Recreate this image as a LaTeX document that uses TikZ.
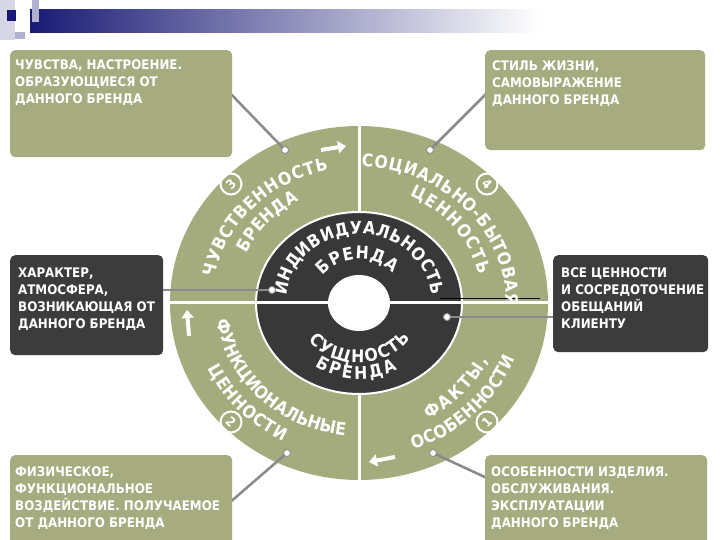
\documentclass[tikz,border=0pt]{standalone}
\usepackage{fontspec}
\setmainfont{DejaVu Sans Condensed}
\usetikzlibrary{decorations.text,arrows.meta,calc}
\definecolor{ringgreen}{RGB}{164,171,124}
\definecolor{boxgreen}{RGB}{166,172,127}
\definecolor{darkcore}{RGB}{56,56,56}
\definecolor{boxdark}{RGB}{60,60,60}
\definecolor{hdrnavy}{RGB}{26,26,118}
\definecolor{hdrpale}{RGB}{214,214,228}
\definecolor{hdrlav}{RGB}{176,176,208}
\definecolor{conngrey}{RGB}{138,138,138}
\newcommand\boxfont{\fontsize{13.2}{16.8}\selectfont\bfseries}
\newcommand\ringfont{\fontsize{17.5}{17.5}\selectfont\bfseries\color{white}}
\newcommand\corefont{\fontsize{17.5}{17.5}\selectfont\bfseries\color{white}}
\tikzset{
  greenbox/.style={rectangle, fill=boxgreen, rounded corners=5pt, inner sep=0pt, anchor=north west},
  darkbox/.style={rectangle, fill=boxdark, rounded corners=5pt, inner sep=0pt, anchor=north west},
  boxtext/.style={text=white, font=\boxfont, align=left, inner sep=0pt, anchor=north west},
  ringtxt/.style={decorate, decoration={text along path, text align={fit to path}, text={|\ringfont|#1}}},
  coretxt/.style={decorate, decoration={text along path, text align={fit to path}, text={|\corefont|#1}}},
  conn/.style={draw=conngrey, line width=2.5pt},
  pindot/.style={circle, fill=white, draw=conngrey, line width=0.8pt, inner sep=0pt, minimum size=7pt},
  badge/.style={circle, draw=white, line width=2pt, text=white, font=\fontsize{13}{13}\selectfont\bfseries, inner sep=0pt, minimum size=21pt},
  flowarrow/.style={draw=white, line width=4pt, -{Triangle[length=8pt,width=12pt]}},
  divider/.style={draw=white, line width=3pt},
}
\begin{document}
\begin{tikzpicture}[x=1pt,y=1pt]
\useasboundingbox (0,0) rectangle (720,540);
\fill[white] (0,0) rectangle (720,540);
% header decoration
\fill[hdrpale] (0,500) rectangle (15,540);
\shade[left color=hdrnavy, right color=white] (30,507) rectangle (540,530);
\fill[hdrnavy] (7,519) rectangle (16,530);
\fill[hdrlav] (32,518) rectangle (39,540);
\fill[hdrlav] (15,501) rectangle (25,508);

\coordinate (C) at (359,237);
% ring
\fill[ringgreen] (C) ellipse [x radius=189, y radius=177];
\draw[divider] ($(C)+(-189,0)$) -- ($(C)+(189,0)$);
\draw[divider] ($(C)+(0,-177)$) -- ($(C)+(0,177)$);
\filldraw[fill=darkcore, draw=white, line width=2pt] (C) ellipse [x radius=103, y radius=91];
\draw[divider] ($(C)+(-103,0)$) -- ($(C)+(103,0)$);
\fill[white] (C) ellipse [x radius=31, y radius=28];
\draw[black, line width=0.8pt] (440,242) -- (540,242);

% flow arrows
\draw[flowarrow] (321,390) -- (346,394);
\draw[flowarrow] (189,204) -- (187,230);
\draw[flowarrow] (395,83) -- (369,78);

% badges
\node[badge, rotate=45] (n3) at ($(C)+(-128,119)$) {3};
\node[badge, rotate=-45] (n4) at ($(C)+(128,119)$) {4};
\node[badge, rotate=-45] (n2) at ($(C)+(-128,-119)$) {2};
\node[badge, rotate=45] (n1) at ($(C)+(128,-119)$) {1};

% ring texts
\path[ringtxt={ЧУВСТВЕННОСТЬ}] ($(C)+(169:147 and 136)$) arc [start angle=169, end angle=102, x radius=147, y radius=136];
\path[ringtxt={БРЕНДА}] ($(C)+(155:124 and 117)$) arc [start angle=155, end angle=119, x radius=124, y radius=117];
\path[ringtxt={СОЦИАЛЬНО-БЫТОВАЯ}] ($(C)+(89:147 and 136)$) arc [start angle=89, end angle=-1, x radius=147, y radius=136];
\path[ringtxt={ЦЕННОСТЬ}] ($(C)+(66:124 and 117)$) arc [start angle=66, end angle=14, x radius=124, y radius=117];
\path[ringtxt={ФУНКЦИОНАЛЬНЫЕ}] ($(C)+(187.5:143 and 133)$) arc [start angle=187.5, end angle=264.5, x radius=143, y radius=133];
\path[ringtxt={ЦЕННОСТИ}] ($(C)+(205:167 and 155)$) arc [start angle=205, end angle=243, x radius=167, y radius=155];
\path[ringtxt={ФАКТЫ,}] ($(C)+(299:143 and 133)$) arc [start angle=299, end angle=334.5, x radius=143, y radius=133];
\path[ringtxt={ОСОБЕННОСТИ}] ($(C)+(289:167 and 155)$) arc [start angle=289, end angle=339, x radius=167, y radius=155];
% core texts
\path[coretxt={ИНДИВИДУАЛЬНОСТЬ}] ($(C)+(174:73 and 69)$) arc [start angle=174, end angle=6, x radius=73, y radius=69];
\path[coretxt={БРЕНДА}] ($(C)+(141:46 and 44)$) arc [start angle=141, end angle=43, x radius=46, y radius=44];
\path[coretxt={СУЩНОСТЬ}] ($(C)+(218:64 and 60)$) arc [start angle=218, end angle=324, x radius=64, y radius=60];
\path[coretxt={БРЕНДА}] ($(C)+(236:79 and 76)$) arc [start angle=236, end angle=299, x radius=79, y radius=76];

% pin dots and connectors
\node[pindot] (d1) at (285,390) {};
\node[pindot] (d2) at (430,390) {};
\node[pindot] (d3) at (272,250) {};
\node[pindot] (d4) at (447,223) {};
\node[pindot] (d5) at (287,87) {};
\node[pindot] (d6) at (433,87) {};
\coordinate (e1) at (228,449);
\coordinate (e2) at (489,449);
\coordinate (e3) at (158,250);
\coordinate (e4) at (558,223);
\coordinate (e5) at (228,36);
\coordinate (e6) at (489,61);
\draw[conn] (e1) -- (d1);
\draw[conn] (e2) -- (d2);
\draw[conn] (e3) -- (d3);
\draw[conn] (e4) -- (d4);
\draw[conn] (e5) -- (d5);
\draw[conn] (e6) -- (d6);
\node[pindot] at (d1) {};
\node[pindot] at (d2) {};
\node[pindot] at (d3) {};
\node[pindot] at (d4) {};
\node[pindot] at (d5) {};
\node[pindot] at (d6) {};

% boxes
\node[greenbox, minimum width=222pt, minimum height=107pt] (b1) at (10,490) {};
\node[greenbox, minimum width=220pt, minimum height=100pt] (b2) at (485,490) {};
\node[darkbox, minimum width=153pt, minimum height=100pt] (b3) at (10,285) {};
\node[darkbox, minimum width=155pt, minimum height=97pt] (b4) at (553,285) {};
\node[greenbox, minimum width=222pt, minimum height=100pt] (b5) at (10,85) {};
\node[greenbox, minimum width=222pt, minimum height=100pt] (b6) at (485,85) {};

\node[boxtext] (t1) at ([xshift=5,yshift=-10]b1.north west) {ЧУВСТВА, НАСТРОЕНИЕ.\\ОБРАЗУЮЩИЕСЯ ОТ\\ДАННОГО БРЕНДА};
\node[boxtext] (t2) at ([xshift=7,yshift=-11]b2.north west) {СТИЛЬ ЖИЗНИ,\\САМОВЫРАЖЕНИЕ\\ДАННОГО БРЕНДА};
\node[boxtext] (t3) at ([xshift=8,yshift=-13]b3.north west) {ХАРАКТЕР,\\АТМОСФЕРА,\\ВОЗНИКАЮЩАЯ ОТ\\ДАННОГО БРЕНДА};
\node[boxtext] (t4) at ([xshift=8,yshift=-13]b4.north west) {ВСЕ ЦЕННОСТИ\\И СОСРЕДОТОЧЕНИЕ\\ОБЕЩАНИЙ\\КЛИЕНТУ};
\node[boxtext] (t5) at ([xshift=5,yshift=-12]b5.north west) {ФИЗИЧЕСКОЕ,\\ФУНКЦИОНАЛЬНОЕ\\ВОЗДЕЙСТВИЕ. ПОЛУЧАЕМОЕ\\ОТ ДАННОГО БРЕНДА};
\node[boxtext] (t6) at ([xshift=6,yshift=-12]b6.north west) {ОСОБЕННОСТИ ИЗДЕЛИЯ.\\ОБСЛУЖИВАНИЯ.\\ЭКСПЛУАТАЦИИ\\ДАННОГО БРЕНДА};
\end{tikzpicture}
\end{document}
